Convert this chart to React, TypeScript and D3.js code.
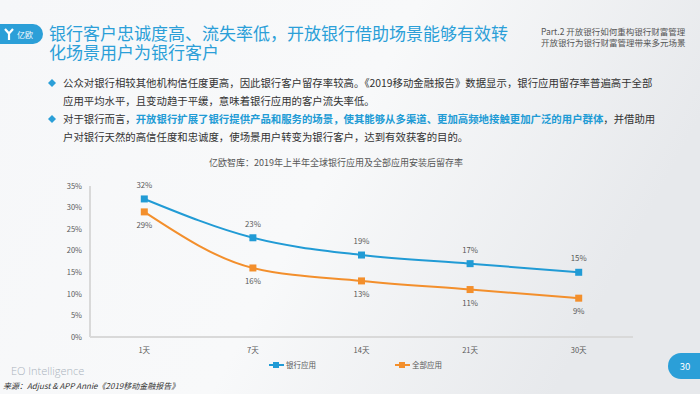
import * as d3 from 'd3';

const categories = ['1天', '7天', '14天', '21天', '30天'];
const bankApps = [32, 23, 19, 17, 15];
const allApps = [29, 16, 13, 11, 9];
const yTicks = [0, 5, 10, 15, 20, 25, 30, 35];

const BLUE = '#219bd5';
const ORANGE = '#f38f2c';
const TITLE_BLUE = '#2b9fd8';
const FONT = '"Noto Sans CJK SC", "Noto Sans", sans-serif';

const series = [
  { name: '银行应用', values: bankApps, color: BLUE, labelDy: -11 },
  { name: '全部应用', values: allApps, color: ORANGE, labelDy: 16 },
];

export default function App() {
  const width = 700;
  const height = 394;
  const margin = { top: 186, right: 67, bottom: 57, left: 90 };

  const x = d3.scalePoint<string>().domain(categories).range([margin.left, width - margin.right]).padding(0.5);
  const y = d3.scaleLinear().domain([0, 35]).range([height - margin.bottom, margin.top]);

  const line = d3.line<number>()
    .x((_, i) => x(categories[i]) as number)
    .y(d => y(d))
    .curve(d3.curveMonotoneX);

  const legendX = [269, 395];

  return (
    <div style={{ position: 'absolute', left: 0, top: 0, width, height, overflow: 'hidden' }}>
      <svg width={width} height={height} style={{ display: 'block', fontFamily: FONT }}>
        <defs>
          <linearGradient id="bg" x1="0" y1="0" x2="1" y2="0.3">
            <stop offset="0" stopColor="#f6f7f9" />
            <stop offset="0.55" stopColor="#f8f9fa" />
            <stop offset="1" stopColor="#e7e9ec" />
          </linearGradient>
        </defs>
        <rect width={width} height={height} fill="url(#bg)" />

        {/* header */}
        <rect x={-14} y={24} width={57} height={20} rx={10} fill={TITLE_BLUE} />
        <path d="M5 29 L9 33.5 L13 29 M9 33.5 L9 40" stroke="#fff" strokeWidth={2.2} fill="none" />
        <text x={17} y={37.5} fill="#fff" fontSize={8}>亿欧</text>
        <text x={49} y={40} fill={TITLE_BLUE} fontSize={17}>
          <tspan x={49} y={40}>银行客户忠诚度高、流失率低，开放银行借助场景能够有效转</tspan>
          <tspan x={49} y={59}>化场景用户为银行客户</tspan>
        </text>
        <text x={541} y={35} fill="#555" fontSize={8.5}>
          <tspan x={541} y={35}>Part.2 开放银行如何重构银行财富管理</tspan>
          <tspan x={541} y={46}>开放银行为银行财富管理带来多元场景</tspan>
        </text>

        {/* bullets */}
        <g fontSize={10.4} fill="#333">
          <path d="M52 79 L56 83 L52 87 L48 83 Z" fill={TITLE_BLUE} />
          <text x={63} y={87}>公众对银行相较其他机构信任度更高，因此银行客户留存率较高。《2019移动金融报告》数据显示，银行应用留存率普遍高于全部</text>
          <text x={63} y={105}>应用平均水平，且变动趋于平缓，意味着银行应用的客户流失率低。</text>
          <path d="M52 115 L56 119 L52 123 L48 119 Z" fill={TITLE_BLUE} />
          <text x={63} y={123}>
            对于银行而言，
            <tspan fill={BLUE} fontWeight="bold">开放银行扩展了银行提供产品和服务的场景，使其能够从多渠道、更加高频地接触更加广泛的用户群体</tspan>
            ，并借助用
          </text>
          <text x={63} y={141}>户对银行天然的高信任度和忠诚度，使场景用户转变为银行客户，达到有效获客的目的。</text>
        </g>

        {/* chart title */}
        <text x={336} y={166} textAnchor="middle" fontSize={9} fill="#555">亿欧智库：2019年上半年全球银行应用及全部应用安装后留存率</text>

        {/* axes */}
        <line x1={margin.left} x2={margin.left} y1={y(35)} y2={y(0)} stroke="#d9d9d9" strokeWidth={2} />
        <line x1={margin.left} x2={width - margin.right} y1={y(0)} y2={y(0)} stroke="#d9d9d9" strokeWidth={2} />
        {yTicks.map(t => (
          <text key={t} x={82} y={y(t) + 2.7} textAnchor="end" fontSize={7.5} fill="#595959">{t}%</text>
        ))}
        {categories.map(c => (
          <text key={c} x={x(c)} y={353} textAnchor="middle" fontSize={7.5} fill="#595959">{c}</text>
        ))}

        {/* series */}
        {series.map(s => (
          <g key={s.name}>
            <path d={line(s.values) || ''} fill="none" stroke={s.color} strokeWidth={2} />
            {s.values.map((v, i) => (
              <g key={i}>
                <rect x={(x(categories[i]) as number) - 3.5} y={y(v) - 3.5} width={7} height={7} fill={s.color} />
                <text x={x(categories[i])} y={y(v) + s.labelDy} textAnchor="middle" fontSize={7.8} fill="#595959">{v}%</text>
              </g>
            ))}
          </g>
        ))}

        {/* legend */}
        {series.map((s, i) => (
          <g key={s.name} transform={`translate(${legendX[i]},365)`}>
            <line x1={0} x2={15} y1={0} y2={0} stroke={s.color} strokeWidth={2} />
            <rect x={4} y={-3} width={6} height={6} fill={s.color} />
            <text x={17} y={2.7} fontSize={7.5} fill="#595959">{s.name}</text>
          </g>
        ))}

        {/* footer */}
        <text x={11} y={375} fontSize={11} fill="#aab3bd" fontFamily='"Open Sans", sans-serif' fontWeight={300}>EO Intelligence</text>
        <text x={3} y={389} fontSize={8} fill="#333" fontStyle="italic">来源：Adjust &amp; APP Annie《2019移动金融报告》</text>
        <rect x={668} y={353} width={50} height={26} rx={13} fill={TITLE_BLUE} />
        <text x={685} y={369.5} textAnchor="middle" fontSize={9.5} fill="#fff">30</text>
      </svg>
    </div>
  );
}
